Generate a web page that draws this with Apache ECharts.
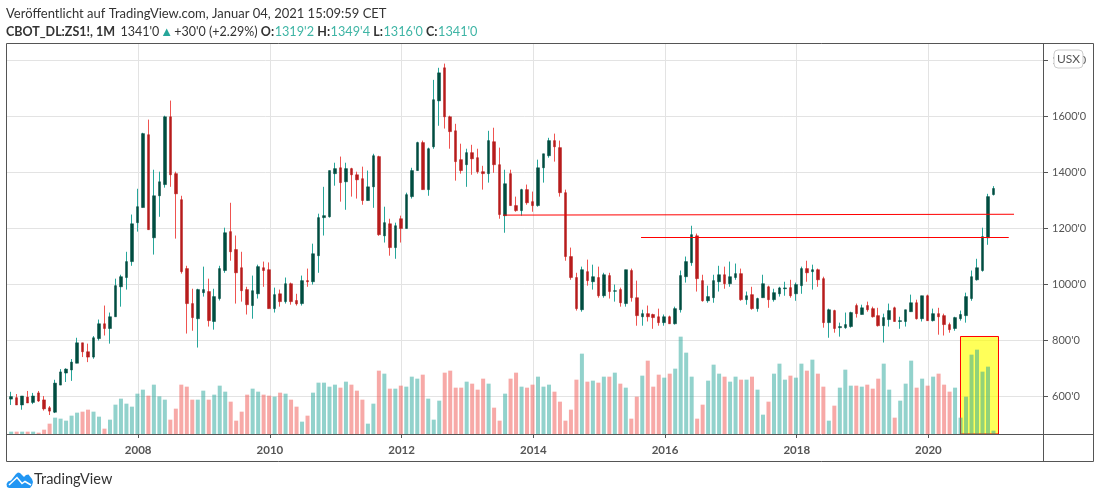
<!DOCTYPE html>
<html>
<head>
<meta charset="utf-8">
<style>html,body{margin:0;padding:0;background:#fff}#c{width:1100px;height:498px}</style>
<script src="https://cdn.jsdelivr.net/npm/echarts@6/dist/echarts.min.js"></script>
</head>
<body>
<div id="c"></div>
<script>
// Monthly bars, Feb 2006 .. Jan 2021
const firstMonth = 2006 + 1 / 12 - 0.012;
const opens = [
589,594,568,596,577,611,586,558,542,639,682,
693,717,790,758,739,805,858,841,883,990,1023,1080,
1219,1273,1533,1165,1315,1355,1597,1394,1301,1055,930,876,
969,973,866,948,1048,1187,1123,1058,980,923,965,1058,
1051,912,965,937,1001,941,930,1012,1008,1101,1237,1240,
1394,1415,1365,1412,1390,1376,1298,1347,1455,1172,1215,1130,
1233,1198,1312,1405,1505,1337,1490,1654,1772,1597,1547,1444,
1426,1469,1451,1401,1394,1508,1426,1244,1394,1280,1262,1337,
1294,1280,1415,1458,1512,1487,1326,1098,1023,908,1044,1008,
1023,958,1030,974,980,930,1048,951,883,894,891,883,
862,883,858,908,1026,1076,1172,1012,940,951,1008,1033,
1001,1023,1037,944,962,912,951,990,944,965,983,987,
965,994,1055,1044,1051,1019,862,905,844,844,848,923,
891,923,912,887,851,873,915,866,866,901,933,876,
958,869,894,887,855,841,876,887,948,1015,1048,1165,
1319.25];
const closes = [
598,568,600,575,600,582,554,546,646,686,696,
721,790,758,739,808,858,841,883,994,1026,1080,1215,
1276,1537,1194,1315,1365,1597,1390,1322,1044,930,880,980,
980,869,955,1055,1183,1115,1040,976,926,976,1062,1048,
912,962,937,1001,937,929,1012,1008,1108,1237,1244,1405,
1412,1362,1412,1390,1372,1298,1347,1458,1176,1219,1130,1208,
1198,1319,1405,1505,1337,1483,1658,1754,1597,1544,1437,1405,
1469,1447,1401,1394,1512,1426,1248,1358,1280,1262,1337,1290,
1280,1415,1465,1512,1490,1326,1098,1023,912,1051,1012,1026,
958,1033,973,976,933,1051,951,887,894,883,880,862,
883,858,912,1030,1080,1176,1019,940,955,1012,1033,1001,
1026,1037,944,958,912,948,1001,944,969,986,986,958,
998,1055,1040,1051,1015,862,908,841,848,855,898,894,
915,908,883,851,880,905,866,869,908,933,876,958,
869,894,883,855,837,880,891,955,1026,1058,1169,1312,
1341];
const highs = [
615,607,600,618,611,618,600,564,658,696,699,
732,808,790,787,814,873,923,898,1019,1033,1115,1248,
1340,1540,1587,1408,1401,1601,1655,1401,1315,1065,983,983,
1062,1019,983,1065,1201,1290,1173,1115,990,1030,1069,1080,
1077,987,980,1023,1005,965,1030,1055,1144,1251,1347,1405,
1433,1455,1433,1415,1401,1419,1405,1465,1458,1276,1233,1219,
1244,1326,1415,1508,1512,1487,1729,1772,1787,1601,1572,1501,
1483,1497,1483,1422,1547,1558,1487,1408,1408,1312,1340,1355,
1330,1444,1465,1522,1537,1512,1337,1130,1040,1062,1087,1069,
1062,1040,1040,998,987,1051,1055,1012,908,923,894,912,
891,887,919,1048,1098,1208,1180,1033,994,1033,1065,1062,
1080,1073,1055,973,990,951,1033,994,983,990,1008,1015,
1005,1062,1083,1069,1055,1026,912,908,862,898,901,930,
926,937,919,915,894,930,919,883,908,962,944,958,
962,912,915,894,862,883,905,969,1048,1090,1201,1322,
1349.5];
const lows = [
568,568,551,575,571,579,548,532,539,639,650,
654,717,739,721,733,798,816,787,883,919,980,1065,
1187,1273,1194,1105,1240,1344,1347,1162,1037,823,833,773,
955,848,837,941,1040,1083,930,937,891,876,948,990,
912,898,919,930,926,923,923,990,998,1040,1173,1237,
1351,1294,1265,1312,1305,1283,1298,1272,1172,1148,1101,1090,
1148,1198,1305,1405,1337,1315,1483,1565,1555,1483,1369,1394,
1347,1390,1394,1337,1362,1397,1233,1183,1280,1258,1244,1283,
1258,1276,1362,1451,1437,1312,1083,1015,905,901,994,980,
951,951,948,937,919,919,937,851,851,866,840,851,
851,858,855,898,1005,1065,973,937,933,933,973,983,
990,1015,940,926,908,901,951,915,937,955,958,951,
940,965,1008,980,990,844,808,826,812,840,844,880,
891,901,880,848,791,848,866,840,848,901,873,866,
869,866,819,816,826,833,869,862,940,1012,1044,1140,
1316];
const volumes = [
7,7,7,7,7,4,13,31,49,46,40,
55,64,67,73,67,52,16,43,88,106,91,82,
121,133,115,148,113,103,43,76,148,142,103,103,
130,103,118,145,127,97,40,67,118,136,127,118,
115,112,124,121,103,82,37,55,124,154,154,142,
148,139,157,148,130,103,31,91,190,181,136,136,
145,142,172,166,178,106,43,100,184,190,139,139,
157,151,133,166,151,79,40,121,166,184,142,139,
148,172,142,148,127,97,40,73,163,241,157,160,
154,172,172,184,151,139,46,112,175,220,142,178,
169,181,196,292,244,172,46,88,160,208,181,172,
157,172,163,163,172,133,58,97,181,211,163,175,
169,211,190,223,181,142,40,85,139,193,145,145,
142,148,136,166,211,133,49,100,151,220,139,166,
145,172,181,148,127,139,49,112,238,253,187,202,
10];
const priceTicks = [600,800,1000,1200,1400,1600,1800];
const yearTicks = [2008,2010,2012,2014,2016,2018,2020];
const upperLine = [[2013.54,1246],[2021.30,1249]];
const lowerLine = [[2015.636,1166],[2021.22,1166]];
const highlightBox = {x0:2020.487, x1:2021.064, top:812.5};

const priceMin = 464.3, priceMax = 1857, xMin = 2006, xMax = 2021.74;
const xs = opens.map((_, i) => firstMonth + i / 12);

const wickData = opens.map((o, i) => [xs[i], o, closes[i], lows[i], highs[i]]);
const bodyData = opens.map((o, i) => [xs[i], o, closes[i], Math.min(o, closes[i]), Math.max(o, closes[i])]);
const volData = volumes.map((v, i) => ({
  value: [xs[i], v],
  itemStyle: {color: closes[i] >= opens[i] ? 'rgba(38,166,154,0.5)' : 'rgba(239,83,80,0.5)'}
}));

const uiFont = 'Lato,"Noto Sans",sans-serif';
const frame = '#555';
const hline = (x1,y1,x2,y2) => ({type:'line',silent:true,z:20,shape:{x1,y1,x2,y2},style:{stroke:frame,lineWidth:1}});

const chart = echarts.init(document.getElementById('c'), null, {renderer:'canvas'});
chart.setOption({
  animation:false,
  backgroundColor:'#fff',
  title:[
    {text:'Veröffentlicht auf TradingView.com, Januar 04, 2021 15:09:59 CET',left:6,top:7,padding:0,
     textStyle:{fontFamily:uiFont,fontSize:13,fontWeight:'normal',color:'#333'}},
    {text:"{b|CBOT_DL:ZS1!, 1M} {n|1341'0}{t|▲}{n|+30'0 (+2.29%) }{b|O:}{g|1319'2 }{b|H:}{g|1349'4 }{b|L:}{g|1316'0 }{b|C:}{g|1341'0}",
     left:6,top:23,padding:0,
     textStyle:{fontWeight:'normal',rich:{
       b:{fontFamily:uiFont,fontSize:12.5,fontWeight:'bold',color:'#333',padding:[0,0.5,0,0]},
       n:{fontFamily:uiFont,fontSize:12.5,fontWeight:'normal',color:'#333'},
       g:{fontFamily:uiFont,fontSize:12.7,fontWeight:'normal',color:'#3fb5a5'},
       t:{fontFamily:uiFont,fontSize:13,fontWeight:'normal',color:'#26a69a',padding:[0,1,0,1]}
     }}}
  ],
  grid:{left:6.5,right:57,top:44,bottom:64,containLabel:false},
  xAxis:{type:'value',min:xMin,max:xMax,
    axisLine:{show:false,onZero:false,lineStyle:{color:frame}},
    axisTick:{show:true,length:4,lineStyle:{color:frame},customValues:yearTicks},
    axisLabel:{color:'#555',fontFamily:uiFont,fontSize:11.5,fontWeight:'bold',margin:10,customValues:yearTicks,formatter:v=>String(v)},
    splitLine:{show:true,lineStyle:{color:'#e3e3e3'}}
  },
  yAxis:[
    {type:'value',position:'right',min:priceMin,max:priceMax,
     axisLine:{show:true,lineStyle:{color:frame}},
     axisTick:{show:true,length:5,lineStyle:{color:frame},customValues:priceTicks},
     axisLabel:{color:'#555',fontFamily:uiFont,fontSize:11,margin:9,customValues:priceTicks,formatter:v=>v+"'0"},
     splitLine:{show:true,lineStyle:{color:'#e3e3e3'}}},
    {type:'value',min:0,max:1170,show:false,splitLine:{show:false}}
  ],
  series:[
    {type:'line',name:'Box',data:[],z:1,silent:true,
     markArea:{silent:true,z:1,itemStyle:{color:'rgba(255,255,0,0.65)',borderColor:'#f00',borderWidth:1},
       data:[[{xAxis:highlightBox.x0,yAxis:highlightBox.top},{xAxis:highlightBox.x1,yAxis:priceMin}]]}},
    {type:'bar',name:'Volume',yAxisIndex:1,barWidth:4,data:volData,z:2,silent:true},
    {type:'candlestick',name:'Wicks',barWidth:1,z:3,silent:true,data:wickData,
     itemStyle:{color:'#26a69a',color0:'#ef5350',borderColor:'#26a69a',borderColor0:'#ef5350',borderWidth:1}},
    {type:'candlestick',name:'Bodies',barWidth:3,z:4,silent:true,data:bodyData,
     itemStyle:{color:'#004d40',color0:'#b71c1c',borderColor:'#004d40',borderColor0:'#b71c1c',borderWidth:0.5}},
    {type:'line',name:'Upper',data:upperLine,z:6,symbol:'none',silent:true,lineStyle:{color:'#f00',width:1}},
    {type:'line',name:'Lower',data:lowerLine,z:6,symbol:'none',silent:true,lineStyle:{color:'#f00',width:1}}
  ],
  graphic:[
    hline(6.5,43.5,1093.5,43.5),
    hline(6.5,43.5,6.5,461.5),
    hline(6.5,461.5,1093.5,461.5),
    hline(1093.5,43.5,1093.5,461.5),
    hline(1043.5,43.5,1043.5,461.5),
    hline(6.5,434.5,1093.5,434.5),
    {type:'rect',silent:true,z:30,shape:{x:1054,y:50,width:29,height:18,r:4},style:{fill:'#fff',stroke:'#ccc',lineWidth:1}},
    {type:'text',silent:true,z:31,x:1068.5,y:59,style:{text:'USX',fill:'#555',font:'12px '+uiFont,textAlign:'center',textVerticalAlign:'middle'}},
    {type:'polygon',silent:true,z:30,shape:{points:[[7,487],[6.5,484],[8,481.5],[11,480.5],[16,474],[18,472.5],[20,473],[24,477],[26,475],[28.5,474.5],[30,476.5],[32,479],[33,482],[32,485.5],[30,488],[9,488]]},style:{fill:'#2196f3'}},
    {type:'polyline',silent:true,z:31,shape:{points:[[9,485],[17,477.5],[22,483.5],[25,481.5],[31,485]]},style:{stroke:'#fff',fill:'none',lineWidth:1.5}},
    {type:'text',silent:true,z:31,x:34,y:479,style:{text:'TradingView',fill:'#333',font:'14.5px '+uiFont,textAlign:'left',textVerticalAlign:'middle'}}
  ]
});
</script>
</body>
</html>
